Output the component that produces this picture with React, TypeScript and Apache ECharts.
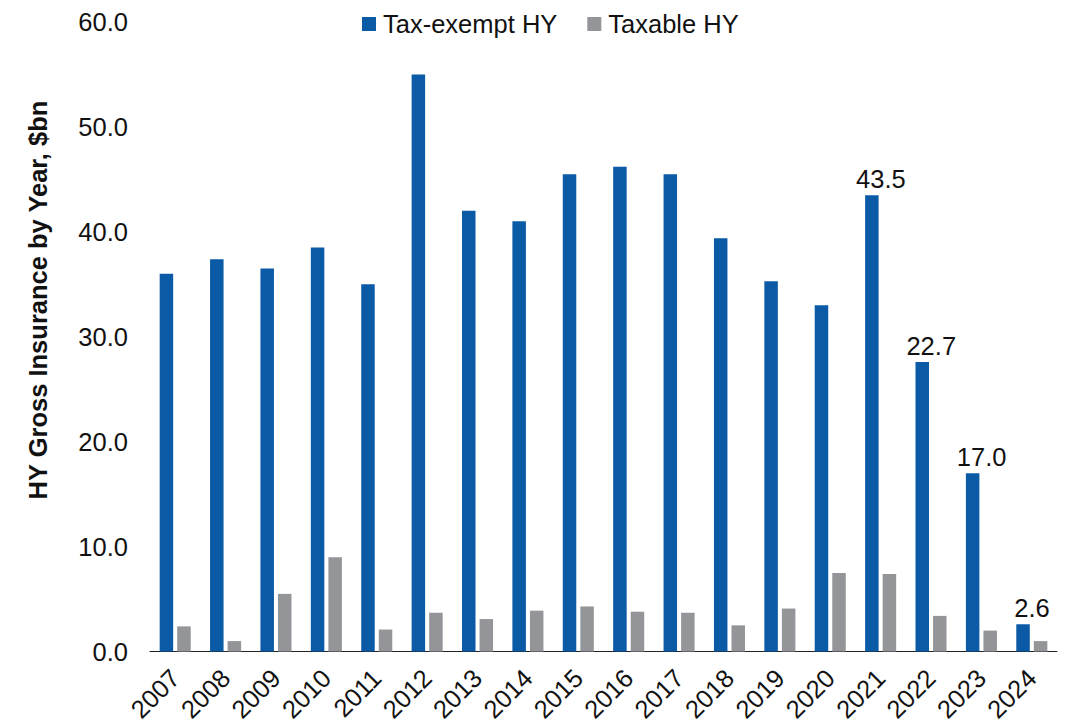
import React, { useEffect, useRef } from "react";
import * as echarts from "echarts";

const years = ["2007","2008","2009","2010","2011","2012","2013","2014","2015","2016","2017","2018","2019","2020","2021","2022","2023","2024"];
const taxExempt = [36.0,37.4,36.5,38.5,35.0,55.0,42.0,41.0,45.5,46.2,45.5,39.4,35.3,33.0,43.5,27.6,17.0,2.6];
const taxable = [2.4,1.0,5.5,9.0,2.1,3.7,3.1,3.9,4.3,3.8,3.7,2.5,4.1,7.5,7.4,3.4,2.0,1.0];
const taxExemptLabels = ["","","","","","","","","","","","","","","43.5","22.7","17.0","2.6"];
const yTicks = { min: 0, max: 60, interval: 10 };

const FONT = "'Liberation Sans', Arial, sans-serif";
const FS = 25.5;

export default function App() {
  const ref = useRef<HTMLDivElement>(null);
  useEffect(() => {
    if (!ref.current) return;
    const chart = echarts.init(ref.current, undefined, { renderer: "svg" });
    chart.setOption({
      animation: false,
      backgroundColor: "#ffffff",
      textStyle: { fontFamily: FONT },
      legend: {
        top: 6,
        left: 357,
        itemWidth: 14,
        itemHeight: 14,
        itemGap: 30,
        icon: "rect",
        textStyle: { fontSize: FS, color: "#111", fontFamily: FONT, padding: [0, 0, 0, 2] },
        data: ["Tax-exempt HY", "Taxable HY"],
      },
      grid: { left: 150, right: 30, top: 22, bottom: 72, containLabel: false },
      xAxis: {
        type: "category",
        data: years,
        axisLine: { lineStyle: { color: "#222", width: 1 } },
        axisTick: { show: false },
        axisLabel: { rotate: 45, fontSize: FS, color: "#111", margin: 22, fontFamily: FONT },
      },
      yAxis: {
        type: "value",
        min: yTicks.min,
        max: yTicks.max,
        interval: yTicks.interval,
        splitLine: { show: false },
        axisLine: { show: false },
        axisTick: { show: false },
        axisLabel: {
          fontSize: FS,
          color: "#111",
          margin: 22,
          fontFamily: FONT,
          formatter: (v: number) => v.toFixed(1),
        },
      },
      graphic: [
        {
          type: "text",
          x: 38,
          y: 300,
          rotation: Math.PI / 2,
          style: {
            text: "HY Gross Insurance by Year, $bn",
            font: `bold ${FS}px ${FONT}`,
            fill: "#111",
            align: "center",
            verticalAlign: "middle",
          },
        },
      ],
      series: [
        {
          name: "Tax-exempt HY",
          type: "bar",
          data: taxExempt,
          barWidth: 13.5,
          barGap: "30%",
          barCategoryGap: "38%",
          itemStyle: { color: "#0A5AA6" },
          label: {
            show: true,
            position: "top",
            distance: 3,
            offset: [9, 0],
            fontSize: FS,
            color: "#111",
            fontFamily: FONT,
            formatter: (p: any) => taxExemptLabels[p.dataIndex],
          },
        },
        {
          name: "Taxable HY",
          type: "bar",
          data: taxable,
          barWidth: 13.5,
          barGap: "30%",
          barCategoryGap: "38%",
          itemStyle: { color: "#939598" },
        },
      ],
    });
    return () => chart.dispose();
  }, []);
  return (
    <div
      ref={ref}
      style={{ position: "absolute", left: 0, top: 0, width: 1087, height: 725 }}
    />
  );
}
